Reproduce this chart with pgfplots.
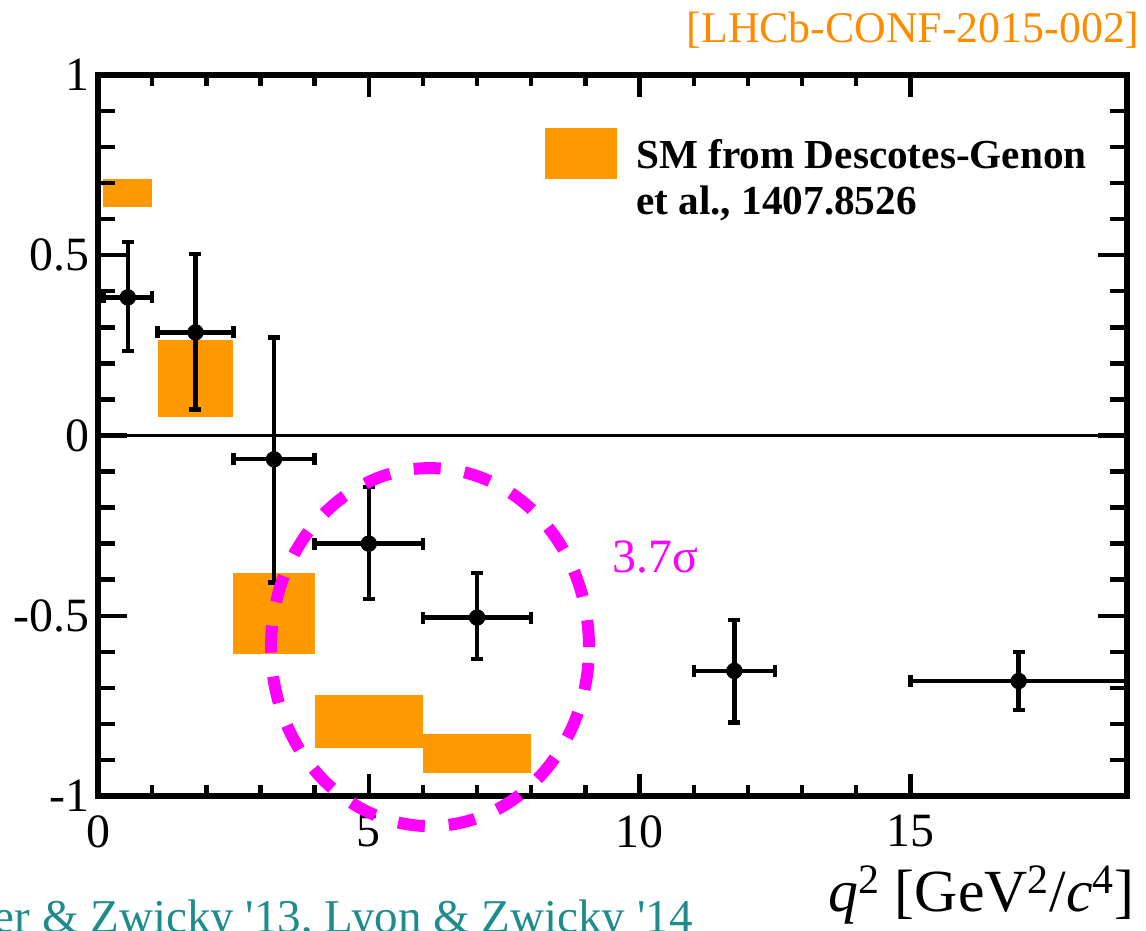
\documentclass[border=0pt]{standalone}
\usepackage{pgfplots}
\pgfplotsset{compat=1.18}
\usepackage{fontspec}
\setmainfont{Liberation Serif}
\definecolor{smorange}{RGB}{255,153,0}
\definecolor{laborange}{RGB}{255,140,0}
\definecolor{tealtxt}{RGB}{30,140,140}
\definecolor{mag}{RGB}{255,0,255}
\begin{document}
\begin{tikzpicture}
\pgfplotsset{
  base/.style={width=514.5bp, height=360.5bp, scale only axis,
    xmin=0, xmax=19, ymin=-1, ymax=1,
    axis line style={line width=2.6bp, black},
    tick style={line width=2.2bp, black},
    tick align=inside,
    /pgf/number format/assume math mode=true,
    ticklabel style={font=\fontsize{24}{28}\selectfont}}
}
\begin{axis}[base, xtick={0,5,10,15}, minor x tick num=4, ytick=\empty,
  major tick length=11bp, minor tick length=5.5bp, clip=true,
  xticklabel style={inner sep=0pt, yshift=-9.5bp}]
% SM predictions
\addplot[fill=smorange, draw=none] coordinates {(0.1,0.634) (1.0,0.634) (1.0,0.711) (0.1,0.711)} -- cycle;
\addplot[fill=smorange, draw=none] coordinates {(1.1,0.052) (2.5,0.052) (2.5,0.264) (1.1,0.264)} -- cycle;
\addplot[fill=smorange, draw=none] coordinates {(2.5,-0.607) (4.0,-0.607) (4.0,-0.382) (2.5,-0.382)} -- cycle;
\addplot[fill=smorange, draw=none] coordinates {(4.0,-0.867) (6.0,-0.867) (6.0,-0.719) (4.0,-0.719)} -- cycle;
\addplot[fill=smorange, draw=none] coordinates {(6.0,-0.936) (8.0,-0.936) (8.0,-0.828) (6.0,-0.828)} -- cycle;
% legend box
\addplot[fill=smorange, draw=none] coordinates {(8.25,0.712) (9.59,0.712) (9.59,0.853) (8.25,0.853)} -- cycle;
% zero line
\addplot[black, line width=1.9bp] coordinates {(0,0) (19,0)};
% data
\addplot[black, only marks, mark=*, mark size=3.9bp,
  error bars/.cd, x dir=both, x explicit, y dir=both, y explicit,
  error bar style={line width=2.2bp, black}, error mark=none]
  table[x=x, y=y, x error minus=exm, x error plus=exp, y error minus=eym, y error plus=eyp] {
x     y       exm   exp   eym    eyp
0.55  0.383   0.45  0.45  0.149  0.154
1.80  0.286   0.70  0.70  0.214  0.218
3.25  -0.066  0.75  0.75  0.342  0.338
5.00  -0.300  1.00  1.00  0.154  0.157
7.00  -0.505  1.00  1.00  0.115  0.123
11.75 -0.653  0.75  0.75  0.143  0.141
17.00 -0.681  2.00  2.00  0.081  0.081
};
% end caps of the vertical error bars
\addplot[black, only marks, mark=-, mark size=3bp, mark options={line width=2.2bp}] coordinates {
(0.55,0.537) (0.55,0.234) (1.80,0.504) (1.80,0.072) (3.25,0.272) (3.25,-0.408)
(5.00,-0.143) (5.00,-0.454) (7.00,-0.382) (7.00,-0.620) (11.75,-0.512) (11.75,-0.796)
(17.00,-0.600) (17.00,-0.762)};
% end caps of the horizontal error bars
\addplot[black, only marks, mark=|, mark size=3bp, mark options={line width=2.2bp}] coordinates {
(0.1,0.383) (1.0,0.383) (1.1,0.286) (2.5,0.286) (2.5,-0.066) (4.0,-0.066)
(4.0,-0.300) (6.0,-0.300) (6.0,-0.505) (8.0,-0.505) (11.0,-0.653) (12.5,-0.653)
(15.0,-0.681) (19.0,-0.681)};
\end{axis}
\begin{axis}[base, xtick=\empty, ytick={-1,-0.5,0,0.5,1}, minor y tick num=4,
  major tick length=14.5bp, minor tick length=8.5bp, clip=false,
  yticklabel style={inner sep=0pt, xshift=-4bp}]
\coordinate (SW) at (rel axis cs:0,0);
\draw[mag, line width=6bp, dash pattern=on 13.5bp off 12bp] (axis cs:6.13,-0.587) ellipse [x radius=79.5bp, y radius=89.5bp];
\node[anchor=base west, text=mag, font=\fontsize{24}{28}\selectfont, inner sep=0pt] at (axis cs:9.5,-0.381) {3.7σ};
\node[anchor=base west, font=\fontsize{20.7}{24}\selectfont\bfseries, inner sep=0pt] at (axis cs:9.93,0.742) {SM from Descotes-Genon};
\node[anchor=base west, font=\fontsize{20.7}{24}\selectfont\bfseries, inner sep=0pt] at (axis cs:9.93,0.612) {et al., 1407.8526};
\end{axis}
\pgfresetboundingbox
\path[use as bounding box] (SW) ++(-49bp,-67.5bp) coordinate (O) rectangle ++(573bp,465.5bp);
\path (O) ++(570bp,444bp) node[anchor=base east, text=laborange, font=\fontsize{22}{26}\selectfont, inner sep=0pt] {[LHCb-CONF-2015-002]};
\path (O) ++(567.5bp,10bp) node[anchor=base east, font=\fontsize{30}{34}\selectfont, inner sep=0pt] {\textit{q}\textsuperscript{2} [GeV\textsuperscript{2}/\textit{c}\textsuperscript{4}]};
\path (O) ++(346.5bp,-0.5bp) node[anchor=base east, text=tealtxt, font=\fontsize{23.6}{26}\selectfont, inner sep=0pt] {J\"ager \& Zwicky \textquotesingle 13, Lyon \& Zwicky \textquotesingle 14};
\end{tikzpicture}
\end{document}
